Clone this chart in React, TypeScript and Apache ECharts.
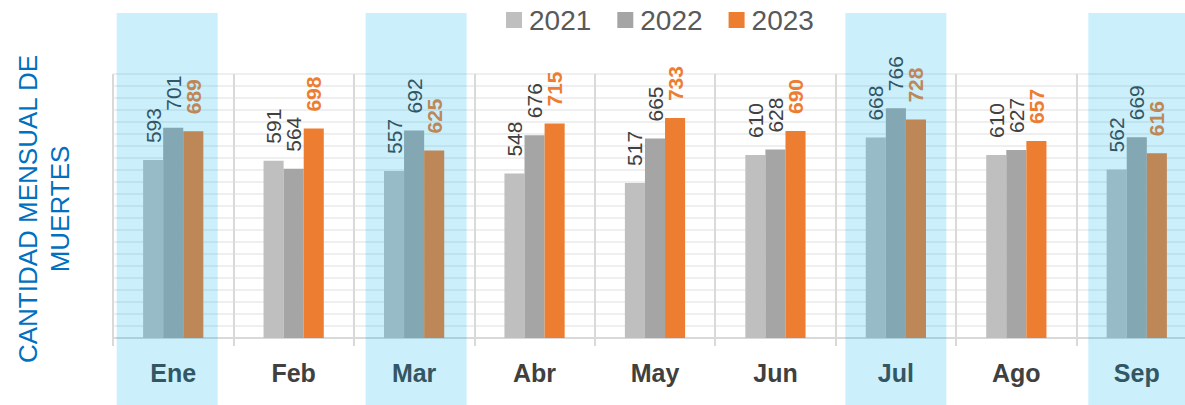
import React, { useEffect, useRef } from 'react';
import * as echarts from 'echarts';

const categories = ['Ene', 'Feb', 'Mar', 'Abr', 'May', 'Jun', 'Jul', 'Ago', 'Sep'];
const years = ['2021', '2022', '2023'];
const values2021 = [593, 591, 557, 548, 517, 610, 668, 610, 562];
const values2022 = [701, 564, 692, 676, 665, 628, 766, 627, 669];
const values2023 = [689, 698, 625, 715, 733, 690, 728, 657, 616];
const highlighted = ['Ene', 'Mar', 'Jul', 'Sep'];
const yAxisTitle = 'CANTIDAD MENSUAL DE\nMUERTES';

const FONT = 'Liberation Sans, Arial, sans-serif';
const colors = ['#bfbfbf', '#a5a5a5', '#ed7d31'];
// small hand-placement offsets of the highlight bands (pixels)
const bandShift: Record<string, number> = { Ene: -6, Mar: 2, Jul: 0, Sep: 2 };

export default function App() {
  const ref = useRef<HTMLDivElement>(null);
  useEffect(() => {
    if (!ref.current) return;
    const chart = echarts.init(ref.current, undefined, { renderer: 'svg' });
    const seriesValues = [values2021, values2022, values2023];
    const barSeries = years.map((y, i) => ({
      name: y,
      type: 'bar',
      data: seriesValues[i],
      barGap: '0%',
      barCategoryGap: '50%',
      itemStyle: { color: colors[i] },
      z: 2,
      label: {
        show: true,
        position: 'top',
        rotate: 90,
        align: 'left',
        verticalAlign: 'middle',
        distance: 17,
        fontSize: 21,
        fontFamily: FONT,
        fontWeight: i === 2 ? 'bold' : 'normal',
        color: i === 2 ? '#ed7d31' : '#404040',
      },
    }));
    const option: any = {
      animation: false,
      legend: {
        data: years,
        left: 501,
        top: 1,
        itemWidth: 16,
        itemHeight: 16,
        itemGap: 26,
        icon: 'rect',
        textStyle: { fontSize: 28, fontFamily: FONT, color: '#595959', padding: [0, 0, 0, 2] },
      },
      grid: {
        left: 113,
        right: -12,
        top: 74,
        bottom: 67,
        containLabel: false,
        outerBoundsMode: 'none',
      },
      xAxis: {
        type: 'category',
        data: categories,
        boundaryGap: true,
        axisLine: { show: true, lineStyle: { color: '#d9d9d9', width: 2 } },
        axisTick: { show: true, length: 8, lineStyle: { color: '#d9d9d9', width: 2 } },
        splitLine: { show: true, lineStyle: { color: '#d9d9d9', width: 2 } },
        axisLabel: {
          fontSize: 25,
          fontWeight: 'bold',
          fontFamily: FONT,
          color: '#404040',
          margin: 22,
        },
      },
      yAxis: {
        type: 'value',
        min: 0,
        max: 880,
        interval: 40,
        axisLine: { show: false },
        axisTick: { show: false },
        axisLabel: { show: false },
        splitLine: { show: true, lineStyle: { color: '#efefef', width: 2 } },
      },
      graphic: [
        {
          type: 'text',
          x: 43.5,
          y: 209,
          rotation: Math.PI / 2,
          style: {
            text: yAxisTitle,
            fill: '#0070c0',
            font: `26px ${FONT}`,
            align: 'center',
            verticalAlign: 'middle',
            textAlign: 'center',
            textVerticalAlign: 'middle',
            lineHeight: 32,
          },
        },
      ],
      series: [
        ...barSeries,
        {
          type: 'custom',
          silent: true,
          clip: false,
          z: 10,
          data: highlighted.map((m) => [categories.indexOf(m), 0]),
          encode: { x: 0, y: 1 },
          renderItem: (params: any, api: any) => {
            const idx = api.value(0);
            const p = api.coord([idx, 0]);
            const shift = bandShift[categories[idx]] || 0;
            return {
              type: 'rect',
              shape: { x: p[0] - 50.5 + shift, y: 13, width: 101, height: 400 },
              style: { fill: 'rgba(0,176,240,0.2)' },
            };
          },
        },
      ],
    };
    chart.setOption(option);
    return () => chart.dispose();
  }, []);
  return (
    <div
      ref={ref}
      style={{ position: 'absolute', left: 0, top: 0, width: 1185, height: 405 }}
    />
  );
}
